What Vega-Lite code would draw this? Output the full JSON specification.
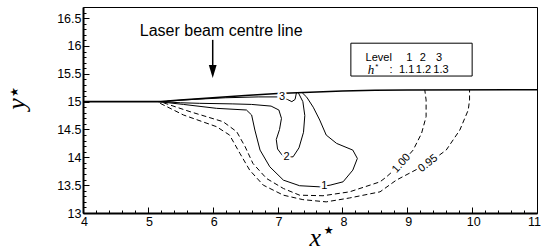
{
  "$schema": "https://vega.github.io/schema/vega-lite/v6.json",
  "width": 454,
  "height": 206,
  "autosize": {"type": "none"},
  "padding": {"left": 83, "top": 7, "right": 5, "bottom": 38},
  "background": "white",
  "config": {
    "view": {"stroke": "black", "strokeWidth": 1},
    "axis": {"grid": false, "domainColor": "black", "domainWidth": 2, "tickColor": "black", "tickWidth": 1, "labelColor": "black", "labelFont": "Liberation Sans", "labelFontSize": 12.5, "labelFlush": false, "labelOverlap": false, "title": null}
  },
  "datasets": {
    "solid": [
      {"c": "1", "i": 1, "x": 5.16, "y": 15.0}, {"c": "1", "i": 2, "x": 5.55, "y": 14.95}, {"c": "1", "i": 3, "x": 6.06, "y": 14.88}, {"c": "1", "i": 4, "x": 6.52, "y": 14.85}, {"c": "1", "i": 5, "x": 6.6, "y": 14.76}, {"c": "1", "i": 6, "x": 6.65, "y": 14.49}, {"c": "1", "i": 7, "x": 6.73, "y": 14.13}, {"c": "1", "i": 8, "x": 6.88, "y": 13.83}, {"c": "1", "i": 9, "x": 7.09, "y": 13.59}, {"c": "1", "i": 10, "x": 7.34, "y": 13.49}, {"c": "1", "i": 11, "x": 7.65, "y": 13.47}, {"c": "1", "i": 12, "x": 7.81, "y": 13.5}, {"c": "1", "i": 13, "x": 8.01, "y": 13.56}, {"c": "1", "i": 14, "x": 8.16, "y": 13.77}, {"c": "1", "i": 15, "x": 8.23, "y": 13.98}, {"c": "1", "i": 16, "x": 8.16, "y": 14.13}, {"c": "1", "i": 17, "x": 7.91, "y": 14.25}, {"c": "1", "i": 18, "x": 7.75, "y": 14.4}, {"c": "1", "i": 19, "x": 7.65, "y": 14.67}, {"c": "1", "i": 20, "x": 7.55, "y": 14.9}, {"c": "1", "i": 21, "x": 7.45, "y": 15.08}, {"c": "1", "i": 22, "x": 7.38, "y": 15.16},
      {"c": "2", "i": 1, "x": 5.2, "y": 15.0}, {"c": "2", "i": 2, "x": 5.5, "y": 14.98}, {"c": "2", "i": 3, "x": 5.8, "y": 14.97}, {"c": "2", "i": 4, "x": 6.3, "y": 14.96}, {"c": "2", "i": 5, "x": 6.6, "y": 14.95}, {"c": "2", "i": 6, "x": 6.9, "y": 14.92}, {"c": "2", "i": 7, "x": 7.02, "y": 14.85}, {"c": "2", "i": 8, "x": 7.06, "y": 14.7}, {"c": "2", "i": 9, "x": 7.03, "y": 14.5}, {"c": "2", "i": 10, "x": 6.98, "y": 14.32}, {"c": "2", "i": 11, "x": 7.0, "y": 14.15}, {"c": "2", "i": 12, "x": 7.07, "y": 14.04}, {"c": "2", "i": 13, "x": 7.14, "y": 14.0}, {"c": "2", "i": 14, "x": 7.24, "y": 14.01}, {"c": "2", "i": 15, "x": 7.33, "y": 14.17}, {"c": "2", "i": 16, "x": 7.4, "y": 14.45}, {"c": "2", "i": 17, "x": 7.42, "y": 14.75}, {"c": "2", "i": 18, "x": 7.39, "y": 15.0}, {"c": "2", "i": 19, "x": 7.32, "y": 15.16},
      {"c": "3", "i": 1, "x": 5.3, "y": 15.01}, {"c": "3", "i": 2, "x": 5.7, "y": 15.04}, {"c": "3", "i": 3, "x": 6.2, "y": 15.07}, {"c": "3", "i": 4, "x": 6.7, "y": 15.085}, {"c": "3", "i": 5, "x": 7.0, "y": 15.085}, {"c": "3", "i": 6, "x": 7.07, "y": 15.08}, {"c": "3", "i": 7, "x": 7.15, "y": 15.04}, {"c": "3", "i": 8, "x": 7.22, "y": 15.0}, {"c": "3", "i": 9, "x": 7.27, "y": 15.04}, {"c": "3", "i": 10, "x": 7.29, "y": 15.155}
    ],
    "dashed": [
      {"c": "1.00", "i": 1, "x": 5.24, "y": 14.98}, {"c": "1.00", "i": 2, "x": 5.65, "y": 14.82}, {"c": "1.00", "i": 3, "x": 6.16, "y": 14.64}, {"c": "1.00", "i": 4, "x": 6.37, "y": 14.46}, {"c": "1.00", "i": 5, "x": 6.5, "y": 14.19}, {"c": "1.00", "i": 6, "x": 6.62, "y": 13.89}, {"c": "1.00", "i": 7, "x": 6.83, "y": 13.62}, {"c": "1.00", "i": 8, "x": 7.09, "y": 13.44}, {"c": "1.00", "i": 9, "x": 7.34, "y": 13.32}, {"c": "1.00", "i": 10, "x": 7.7, "y": 13.31}, {"c": "1.00", "i": 11, "x": 8.11, "y": 13.38}, {"c": "1.00", "i": 12, "x": 8.58, "y": 13.56}, {"c": "1.00", "i": 13, "x": 8.68, "y": 13.65}, {"c": "1.00", "i": 14, "x": 8.91, "y": 13.89}, {"c": "1.00", "i": 15, "x": 9.09, "y": 14.13}, {"c": "1.00", "i": 16, "x": 9.22, "y": 14.43}, {"c": "1.00", "i": 17, "x": 9.29, "y": 14.73}, {"c": "1.00", "i": 18, "x": 9.29, "y": 15.03}, {"c": "1.00", "i": 19, "x": 9.27, "y": 15.21},
      {"c": "0.95", "i": 1, "x": 5.19, "y": 14.97}, {"c": "0.95", "i": 2, "x": 5.55, "y": 14.76}, {"c": "0.95", "i": 3, "x": 6.06, "y": 14.55}, {"c": "0.95", "i": 4, "x": 6.26, "y": 14.4}, {"c": "0.95", "i": 5, "x": 6.42, "y": 14.07}, {"c": "0.95", "i": 6, "x": 6.57, "y": 13.77}, {"c": "0.95", "i": 7, "x": 6.78, "y": 13.5}, {"c": "0.95", "i": 8, "x": 7.09, "y": 13.32}, {"c": "0.95", "i": 9, "x": 7.39, "y": 13.24}, {"c": "0.95", "i": 10, "x": 7.75, "y": 13.2}, {"c": "0.95", "i": 11, "x": 8.11, "y": 13.27}, {"c": "0.95", "i": 12, "x": 8.58, "y": 13.38}, {"c": "0.95", "i": 13, "x": 8.83, "y": 13.59}, {"c": "0.95", "i": 14, "x": 9.32, "y": 13.89}, {"c": "0.95", "i": 15, "x": 9.6, "y": 14.13}, {"c": "0.95", "i": 16, "x": 9.81, "y": 14.49}, {"c": "0.95", "i": 17, "x": 9.94, "y": 14.85}, {"c": "0.95", "i": 18, "x": 9.96, "y": 15.03}, {"c": "0.95", "i": 19, "x": 9.96, "y": 15.21}
    ],
    "surface": [
      {"i": 1, "x": 4.0, "y": 15.0}, {"i": 2, "x": 5.2, "y": 15.0}, {"i": 3, "x": 5.5, "y": 15.03}, {"i": 4, "x": 6.0, "y": 15.07}, {"i": 5, "x": 6.5, "y": 15.11}, {"i": 6, "x": 7.0, "y": 15.145}, {"i": 7, "x": 7.5, "y": 15.17}, {"i": 8, "x": 8.0, "y": 15.19}, {"i": 9, "x": 8.5, "y": 15.205}, {"i": 10, "x": 9.0, "y": 15.21}, {"i": 11, "x": 11.0, "y": 15.215}
    ],
    "clabels": [
      {"t": "1", "x": 7.72, "y": 13.49, "a": 0}, {"t": "2", "x": 7.14, "y": 14.01, "a": 0}, {"t": "3", "x": 7.07, "y": 15.08, "a": 0},
      {"t": "1.00", "x": 8.91, "y": 13.89, "a": -48}, {"t": "0.95", "x": 9.32, "y": 13.89, "a": -38}
    ],
    "legend": [
      {"t": "Level", "x": 8.56, "y": 15.78}, {"t": "1", "x": 9.03, "y": 15.78}, {"t": "2", "x": 9.24, "y": 15.78}, {"t": "3", "x": 9.49, "y": 15.78},
      {"t": ":", "x": 8.75, "y": 15.57}, {"t": "1.1", "x": 8.99, "y": 15.57}, {"t": "1.2", "x": 9.25, "y": 15.57}, {"t": "1.3", "x": 9.52, "y": 15.57}
    ]
  },
  "encoding": {
    "x": {"field": "x", "type": "quantitative", "scale": {"domain": [4, 11], "nice": false, "zero": false},
      "axis": {"values": [4, 4.2, 4.4, 4.6, 4.8, 5, 5.2, 5.4, 5.6, 5.8, 6, 6.2, 6.4, 6.6, 6.8, 7, 7.2, 7.4, 7.6, 7.8, 8, 8.2, 8.4, 8.6, 8.8, 9, 9.2, 9.4, 9.6, 9.8, 10, 10.2, 10.4, 10.6, 10.8, 11],
        "tickSize": {"condition": {"test": "datum.value % 1 === 0", "value": -6}, "value": -3},
        "labelOffset": {"condition": {"test": "datum.value === 11", "value": -3}, "value": 1},
        "labelExpr": "datum.value % 1 === 0 ? '' + datum.value : ''", "labelPadding": 8}},
    "y": {"field": "y", "type": "quantitative", "scale": {"domain": [13, 16.7], "nice": false, "zero": false},
      "axis": {"values": [13, 13.1, 13.2, 13.3, 13.4, 13.5, 13.6, 13.7, 13.8, 13.9, 14, 14.1, 14.2, 14.3, 14.4, 14.5, 14.6, 14.7, 14.8, 14.9, 15, 15.1, 15.2, 15.3, 15.4, 15.5, 15.6, 15.7, 15.8, 15.9, 16, 16.1, 16.2, 16.3, 16.4, 16.5, 16.6],
        "tickSize": {"condition": {"test": "abs(datum.value*2 - round(datum.value*2)) < 0.001", "value": -6}, "value": -3},
        "labelExpr": "abs(datum.value*2 - round(datum.value*2)) < 0.001 ? '' + datum.value : ''", "labelPadding": 8}}
  },
  "layer": [
    {
      "data": {"name": "surface"},
      "mark": {"type": "line", "color": "black", "strokeWidth": 1.6},
      "encoding": {"order": {"field": "i", "type": "quantitative"}}
    },
    {
      "data": {"name": "solid"},
      "mark": {"type": "line", "color": "black", "strokeWidth": 1},
      "encoding": {"detail": {"field": "c"}, "order": {"field": "i", "type": "quantitative"}}
    },
    {
      "data": {"name": "dashed"},
      "mark": {"type": "line", "color": "black", "strokeWidth": 1, "strokeDash": [5, 3]},
      "encoding": {"detail": {"field": "c"}, "order": {"field": "i", "type": "quantitative"}}
    },
    {
      "data": {"name": "clabels"},
      "mark": {"type": "text", "font": "Liberation Sans", "fontSize": 11, "stroke": "white", "strokeWidth": 4, "fill": "white", "baseline": "middle", "align": "center"},
      "encoding": {"text": {"field": "t"}, "angle": {"field": "a", "type": "quantitative", "scale": null}}
    },
    {
      "data": {"name": "clabels"},
      "mark": {"type": "text", "font": "Liberation Sans", "fontSize": 11, "fill": "black", "baseline": "middle", "align": "center"},
      "encoding": {"text": {"field": "t"}, "angle": {"field": "a", "type": "quantitative", "scale": null}}
    },
    {
      "data": {"values": [{"x": 6.0, "y": 16.11, "y2": 15.64}]},
      "mark": {"type": "rule", "color": "black", "strokeWidth": 1.5},
      "encoding": {"y2": {"field": "y2"}}
    },
    {
      "data": {"values": [{"x": 6.0, "y": 15.54}]},
      "mark": {"type": "point", "shape": "M -0.6 -1 L 0.6 -1 L 0 1 Z", "filled": true, "color": "black", "size": 169, "opacity": 1},
      "encoding": {}
    },
    {
      "data": {"values": [{"t": "Laser beam centre line", "x": 6.13, "y": 16.26}]},
      "mark": {"type": "text", "font": "Liberation Sans", "fontSize": 16, "baseline": "middle", "align": "center", "color": "black"},
      "encoding": {"text": {"field": "t"}}
    },
    {
      "data": {"values": [{"x": 8.13, "x2": 10.0, "y": 16.05, "y2": 15.46}]},
      "mark": {"type": "rect", "fill": "white", "stroke": "black", "strokeWidth": 1},
      "encoding": {"x2": {"field": "x2"}, "y2": {"field": "y2"}}
    },
    {
      "data": {"name": "legend"},
      "mark": {"type": "text", "font": "Liberation Sans", "fontSize": 11, "baseline": "middle", "align": "center", "color": "black"},
      "encoding": {"text": {"field": "t"}}
    },
    {
      "data": {"values": [{"t": "h", "x": 8.44, "y": 15.57}]},
      "mark": {"type": "text", "font": "Liberation Serif", "fontStyle": "italic", "fontSize": 13, "baseline": "middle", "align": "center", "color": "black"},
      "encoding": {"text": {"field": "t"}}
    },
    {
      "data": {"values": [{"t": "*", "x": 8.53, "y": 15.62}]},
      "mark": {"type": "text", "font": "Liberation Sans", "fontSize": 8, "baseline": "middle", "align": "center", "color": "black"},
      "encoding": {"text": {"field": "t"}}
    },
    {
      "data": {"values": [{"t": "x", "x": 7.58, "y": 12.4, "a": 0}, {"t": "y", "x": 3.1, "y": 14.96, "a": 270}]},
      "mark": {"type": "text", "font": "Liberation Serif", "fontStyle": "italic", "fontSize": 26, "baseline": "alphabetic", "align": "center", "color": "black"},
      "encoding": {"text": {"field": "t"}, "angle": {"field": "a", "type": "quantitative", "scale": null}}
    },
    {
      "data": {"values": [{"t": "★", "x": 7.79, "y": 12.67, "a": 0}, {"t": "★", "x": 2.95, "y": 15.17, "a": 270}]},
      "mark": {"type": "text", "font": "DejaVu Sans", "fontSize": 11, "baseline": "middle", "align": "center", "color": "black"},
      "encoding": {"text": {"field": "t"}, "angle": {"field": "a", "type": "quantitative", "scale": null}}
    }
  ]
}
